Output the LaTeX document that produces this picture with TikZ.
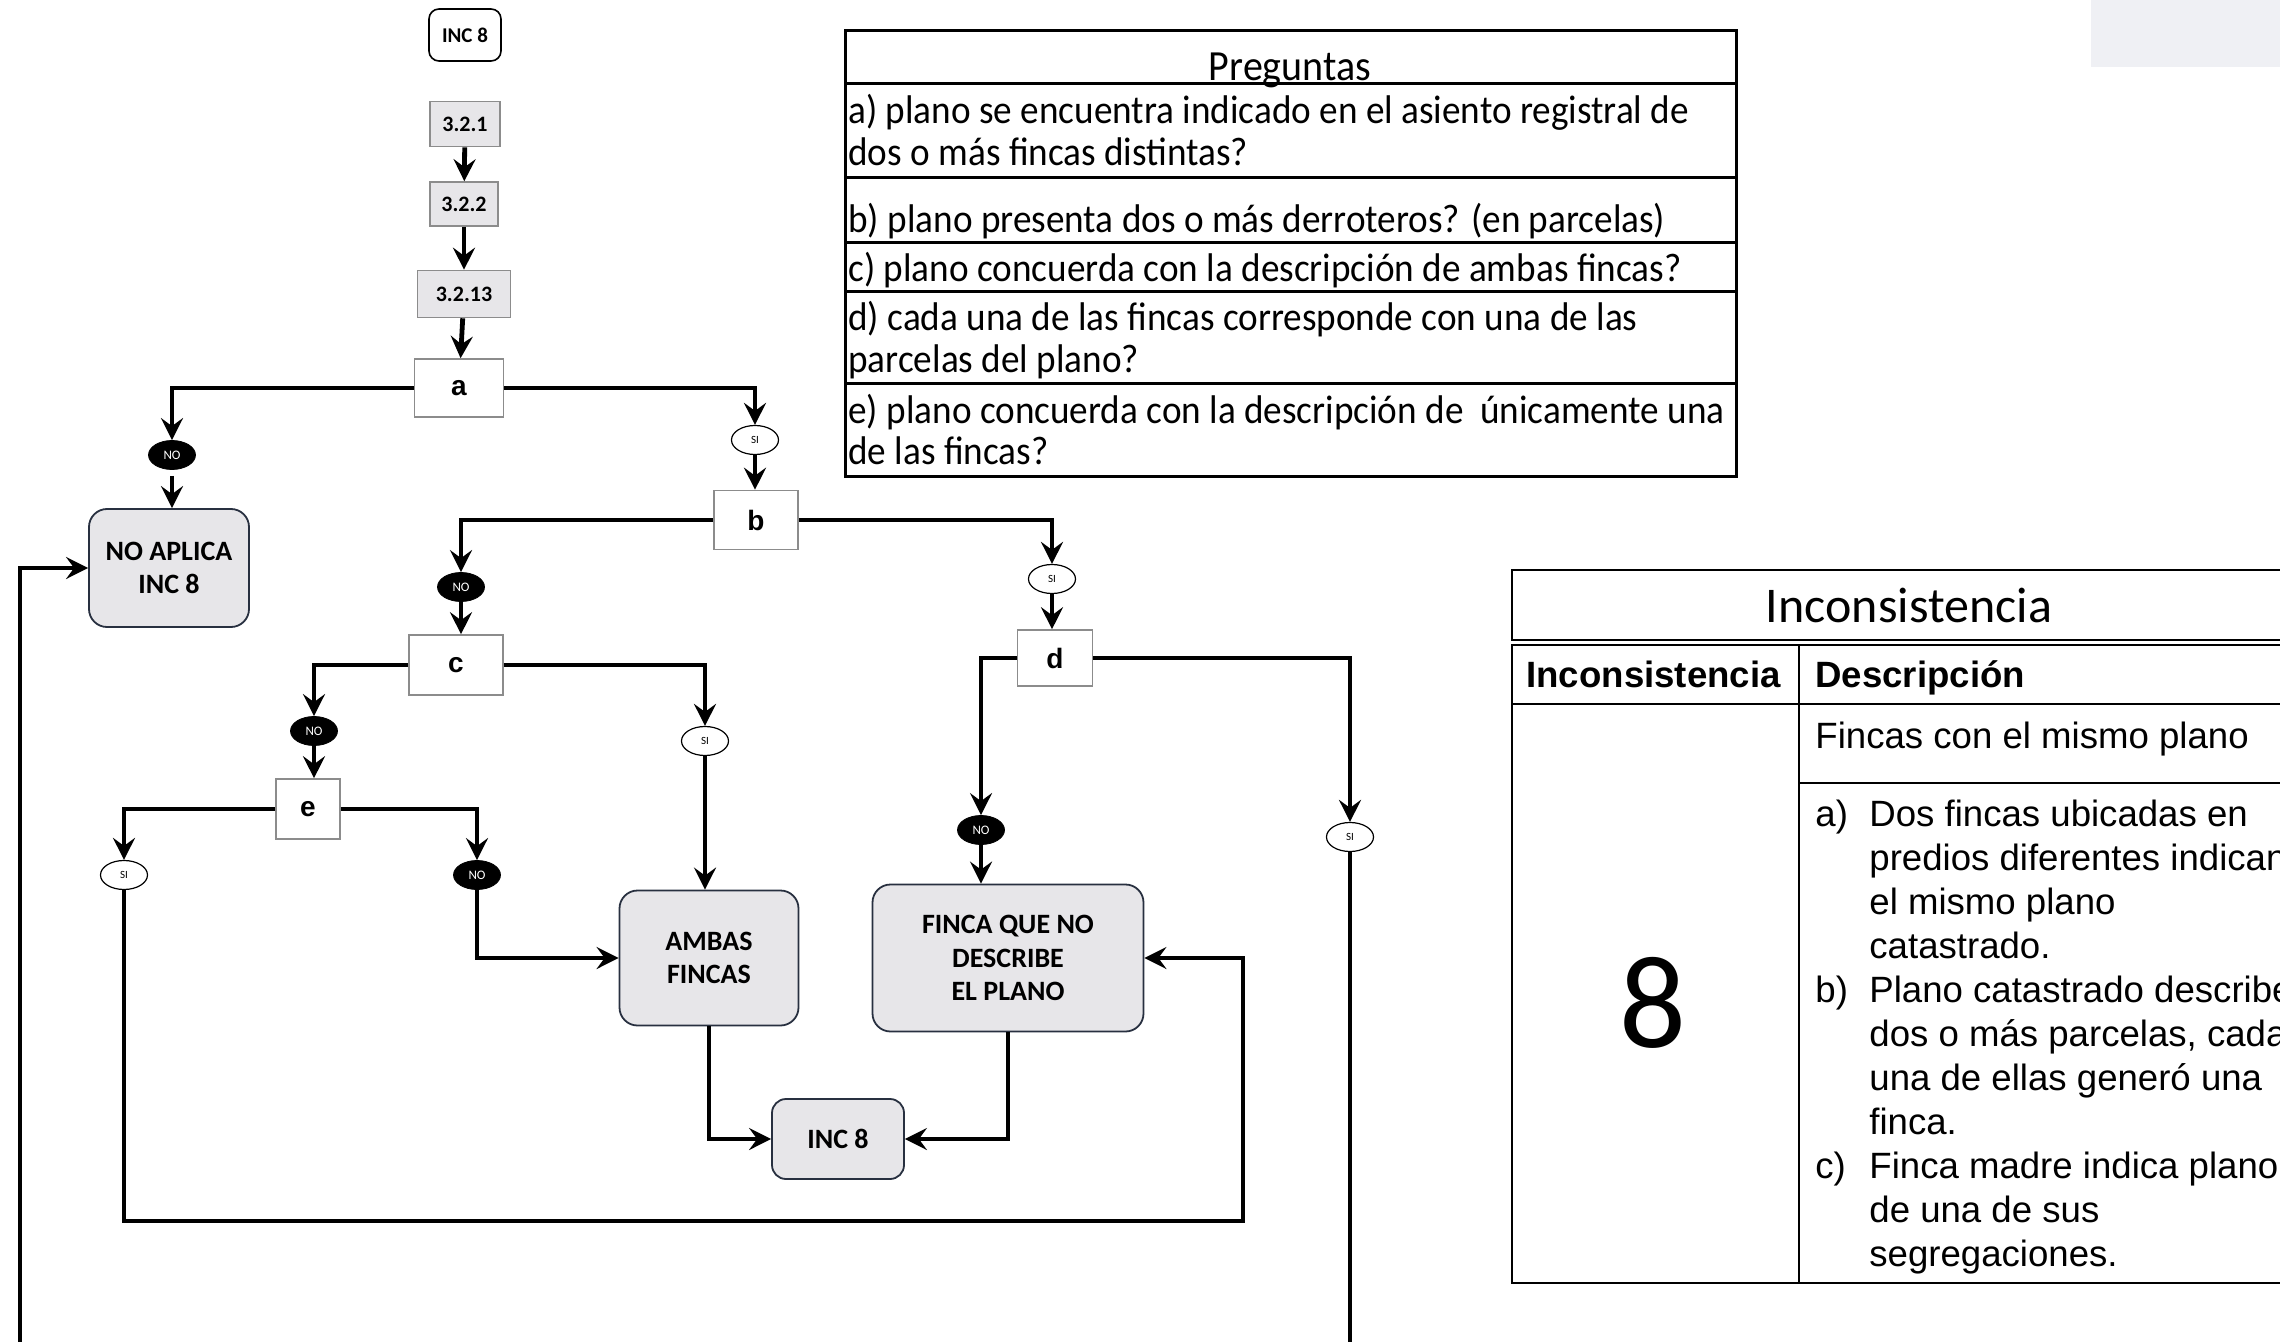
\documentclass[tikz,border=0pt]{standalone}
\usepackage{fontspec}
\setmainfont{Carlito}
\newfontfamily\arialf{Liberation Sans}
\newfontfamily\pregfont[FakeStretch=0.93]{Carlito}
\usetikzlibrary{arrows.meta,shapes.geometric}
\definecolor{boxgray}{RGB}{231,230,233}
\definecolor{boxedge}{RGB}{140,140,140}
\definecolor{navy}{RGB}{40,48,64}
\definecolor{cornergray}{RGB}{239,240,244}
\begin{document}
\begin{tikzpicture}[x=0.5pt,y=-0.5pt,
  conn/.style={line width=2.4pt,-{Stealth[length=11pt,width=11pt,inset=4pt]}},
  plain/.style={line width=2.4pt},
  qbox/.style={draw=boxedge,line width=0.8pt,fill=white,inner sep=0pt,font=\arialf\bfseries\fontsize{14}{16}\selectfont},
  numbox/.style={draw=boxedge,line width=0.8pt,fill=boxgray,inner sep=0pt,font=\bfseries\fontsize{11}{13}\selectfont},
  resbox/.style={draw=navy,line width=0.9pt,fill=boxgray,rounded corners=9pt,inner sep=0pt,align=center,font=\bfseries\fontsize{14}{16.8}\selectfont},
  startbox/.style={draw=black,line width=0.8pt,fill=white,rounded corners=5pt,inner sep=0pt,font=\bfseries\fontsize{10.5}{12}\selectfont},
  noov/.style={ellipse,fill=black,draw=black,text=white,minimum width=23.5pt,minimum height=14.5pt,inner sep=0pt,font=\fontsize{6.5}{7}\selectfont},
  siov/.style={ellipse,fill=white,draw=black,line width=0.6pt,minimum width=23.5pt,minimum height=14.5pt,inner sep=0pt,font=\fontsize{5.5}{7}\selectfont},
  tline/.style={line width=1.5pt},
  iline/.style={line width=1pt},
  ptext/.style={anchor=base west,inner sep=0pt,font=\pregfont\fontsize{20}{24}\selectfont},
  itext/.style={anchor=base west,inner sep=0pt,font=\arialf\fontsize{18.3}{22}\selectfont},
  ihead/.style={anchor=base west,inner sep=0pt,font=\arialf\bfseries\fontsize{18.3}{22}\selectfont}
]
\useasboundingbox (0,0) rectangle (2280,1342);
\clip (0,0) rectangle (2280,1342);
\fill[cornergray] (2091,0) rectangle (2280,67);

% ---------- flowchart nodes ----------
\node[startbox,minimum width=36pt,minimum height=26pt] (inctop) at (465,35) {INC 8};
\node[numbox,minimum width=35pt,minimum height=22.5pt] (s321) at (465,124) {3.2.1};
\node[numbox,minimum width=34pt,minimum height=22pt] (s322) at (464,204) {3.2.2};
\node[numbox,minimum width=46.5pt,minimum height=23.5pt] (s3213) at (464,294) {3.2.13};
\node[qbox,minimum width=44.5pt,minimum height=29pt] (qa) at (459,388) {a};
\node[noov] (noA) at (172,455) {NO};
\node[resbox,minimum width=80pt,minimum height=59pt] (noap) at (169,568) {NO APLICA\\INC 8};
\node[siov] (siA) at (755,440) {SI};
\node[qbox,minimum width=42pt,minimum height=29.5pt] (qb) at (756,520) {b};
\node[noov] (noB) at (461,587) {NO};
\node[qbox,minimum width=47pt,minimum height=30pt] (qc) at (456,665) {c};
\node[siov] (siB) at (1052,579) {SI};
\node[qbox,minimum width=37.5pt,minimum height=28pt] (qd) at (1055,658) {d};
\node[noov] (noC) at (314,731) {NO};
\node[qbox,minimum width=32pt,minimum height=30pt] (qe) at (308,809) {e};
\node[siov] (siC) at (705,741) {SI};
\node[resbox,minimum width=89.5pt,minimum height=67.5pt] (ambas) at (709,958) {AMBAS\\FINCAS};
\node[siov] (siE) at (124,875) {SI};
\node[noov] (noE) at (477,875) {NO};
\node[resbox,minimum width=135.5pt,minimum height=73.5pt] (finca) at (1008,958) {FINCA QUE NO\\DESCRIBE\\EL PLANO};
\node[noov] (noD) at (981,830) {NO};
\node[siov] (siD) at (1350,837) {SI};
\node[resbox,minimum width=66pt,minimum height=40pt,rounded corners=7pt] (inc8) at (838,1139) {INC 8};

\coordinate (loopR) at (1243,1221);
\coordinate (leftStart) at (20,1350);
\coordinate (siDend) at (1352,1350);

% ---------- connectors ----------
\draw[conn] (s321) -- (s322);
\draw[conn] (s322) -- (s3213);
\draw[conn] (s3213) -- (qa);
\draw[conn] (qa.west) -| (noA.north);
\draw[conn] ([yshift=-3pt]noA.south) -- (noA.south |- noap.north);
\draw[conn] (qa.east) -| (siA.north);
\draw[conn] (siA.south) -- (siA.south |- qb.north);
\draw[conn] (qb.west) -| (noB.north);
\draw[conn] (noB.south) -- (noB.south |- qc.north);
\draw[conn] (qb.east) -| (siB.north);
\draw[conn] (siB.south) -- (siB.south |- qd.north);
\draw[conn] (qc.west) -| (noC.north);
\draw[conn] (noC.south) -- (noC.south |- qe.north);
\draw[conn] (qc.east) -| (siC.north);
\draw[conn] (siC.south) -- (siC.south |- ambas.north);
\draw[conn] (qe.west) -| (siE.north);
\draw[conn] (siE.south) |- (loopR) |- (finca.east);
\draw[conn] (qe.east) -| (noE.north);
\draw[conn] (noE.south) |- (ambas.west);
\draw[conn] (qd.west) -| (noD.north);
\draw[conn] (noD.south) -- (noD.south |- finca.north);
\draw[conn] (qd.east) -| (siD.north);
\draw[plain] (siD.south) -- (siD.south |- siDend);
\draw[conn] (leftStart) |- (noap.west);
\draw[conn] (ambas.south) |- (inc8.west);
\draw[conn] (finca.south) |- (inc8.east);

% ---------- Preguntas table ----------
\draw[tline] (845,31) rectangle (1736,476);
\draw[tline] (845,84) -- (1736,84);
\draw[tline] (845,178) -- (1736,178);
\draw[tline] (845,243) -- (1736,243);
\draw[tline] (845,292) -- (1736,292);
\draw[tline] (845,384) -- (1736,384);
\node[anchor=base,inner sep=0pt,font=\pregfont\fontsize{21.5}{24}\selectfont] (ph) at (1290,81) {Preguntas};
\node[ptext] (pa1) at (848,124) {a) plano se encuentra indicado en el asiento registral de};
\node[ptext] (pa2) at (848,166) {dos o más fincas distintas?};
\node[ptext] (pb) at (848,233) {b) plano presenta dos o más derroteros? (en parcelas)};
\node[ptext] (pc) at (848,282) {c) plano concuerda con la descripción de ambas fincas?};
\node[ptext] (pd1) at (848,331) {d) cada una de las fincas corresponde con una de las};
\node[ptext] (pd2) at (848,373) {parcelas del plano?};
\node[ptext] (pe1) at (848,423) {e) plano concuerda con la descripción de\ \ únicamente una};
\node[ptext] (pe2) at (848,465) {de las fincas?};

% ---------- Inconsistencia table ----------
\draw[iline] (2300,570) -- (1512,570) -- (1512,640) -- (2300,640);
\draw[iline] (2300,645) -- (1512,645) -- (1512,1283) -- (2300,1283);
\draw[iline] (1512,704) -- (2300,704);
\draw[iline] (1799,783) -- (2300,783);
\draw[iline] (1799,645) -- (1799,1283);
\node[anchor=base,inner sep=0pt,font=\fontsize{25}{30}\selectfont] (ititle) at (1909,622) {Inconsistencia};
\node[ihead] (ih1) at (1526,687) {Inconsistencia};
\node[ihead] (ih2) at (1815,687) {Descripción};
\node[itext] (ifin) at (1815,748) {Fincas con el mismo plano};
\node[inner sep=0pt,font=\fontsize{66}{70}\selectfont] (inum) at (1653,1003) {8};
\node[itext] (ila) at (1815,826) {a)};
\node[itext] (ia1) at (1869,826) {Dos fincas ubicadas en};
\node[itext] (ia2) at (1869,870) {predios diferentes indican};
\node[itext] (ia3) at (1869,914) {el mismo plano};
\node[itext] (ia4) at (1869,958) {catastrado.};
\node[itext] (ilb) at (1815,1002) {b)};
\node[itext] (ib1) at (1869,1002) {Plano catastrado describe};
\node[itext] (ib2) at (1869,1046) {dos o más parcelas, cada};
\node[itext] (ib3) at (1869,1090) {una de ellas generó una};
\node[itext] (ib4) at (1869,1134) {finca.};
\node[itext] (ilc) at (1815,1178) {c)};
\node[itext] (ic1) at (1869,1178) {Finca madre indica plano};
\node[itext] (ic2) at (1869,1222) {de una de sus};
\node[itext] (ic3) at (1869,1266) {segregaciones.};
\end{tikzpicture}
\end{document}
